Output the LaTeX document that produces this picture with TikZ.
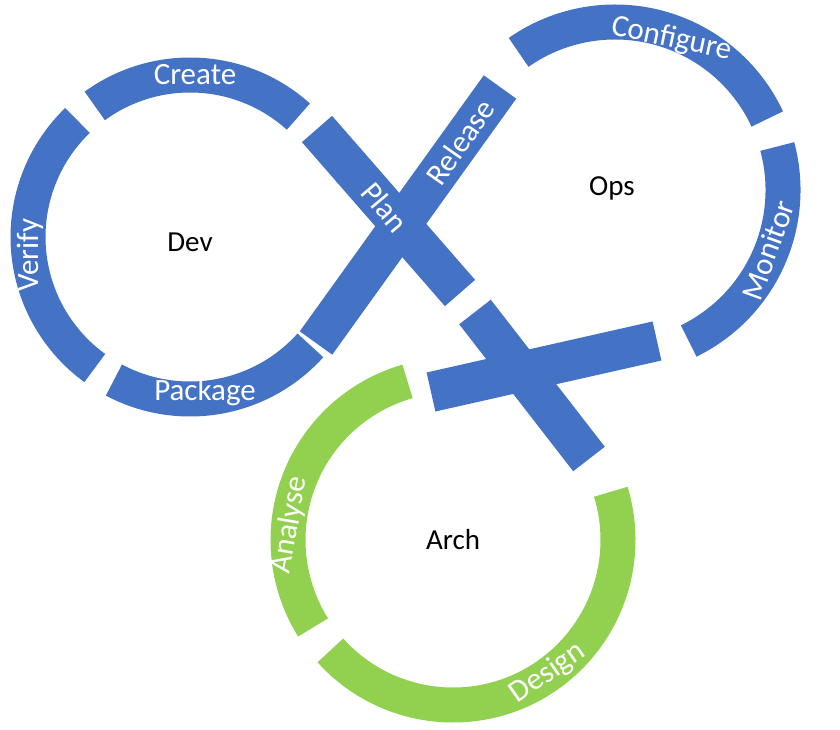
\documentclass[tikz,border=0pt]{standalone}
\usepackage{fontspec}
\setmainfont{Carlito}
\definecolor{devblue}{HTML}{4472C4}
\definecolor{archgreen}{HTML}{92D050}
\tikzstyle{band}=[line width=35pt,line cap=butt]
\tikzstyle{bar}=[line width=40pt,line cap=butt,draw=devblue]
\tikzstyle{steplabel}=[text=white,font=\fontsize{31}{34}\selectfont]
\tikzstyle{looplabel}=[text=black,font=\fontsize{29}{32}\selectfont]

\begin{document}
\begin{tikzpicture}[x=1pt,y=1pt]
  \useasboundingbox (0,0) rectangle (840,729);
  % dev loop
  \draw[band,devblue] (190,492) ++(48:162) arc (48:126:162);
  \draw[band,devblue] (190,492) ++(134:162) arc (134:234:162);
  \draw[band,devblue] (190,492) ++(242:162) arc (242:318:162);
  % ops loop
  \draw[band,devblue] (615,539) ++(25:168) arc (25:125:168);
  \draw[band,devblue] (615,539) ++(-64:168) arc (-64:15:168);
  % arch loop
  \draw[band,archgreen] (453,189) ++(106:165) arc (106:212:165);
  \draw[band,archgreen] (453,189) ++(222:165) arc (222:377:165);
  % crossings
  \draw[bar] (317,600) -- (460,436);
  \draw[bar] (500,642) -- (316,386);
  \draw[bar] (431,337) -- (657,388);
  \draw[bar] (475,417) -- (589,270);
  % labels
  \node[steplabel] (create) at (195,654) {Create};
  \node[steplabel,rotate=90] (verify) at (30,474) {Verify};
  \node[steplabel] (package) at (205,337) {Package};
  \node[steplabel,rotate=-12] (configure) at (672,690) {Configure};
  \node[steplabel,rotate=70] (monitor) at (768,479) {Monitor};
  \node[steplabel,rotate=80] (analyse) at (290,204) {Analyse};
  \node[steplabel,rotate=35] (design) at (548,56) {Design};
  \node[steplabel,rotate=-50] (plan) at (385,522) {Plan};
  \node[steplabel,rotate=55] (release) at (460,587) {Release};
  \node[looplabel] (dev) at (190,487) {Dev};
  \node[looplabel] (ops) at (612,541) {Ops};
  \node[looplabel] (arch) at (453,189) {Arch};
\end{tikzpicture}
\end{document}
